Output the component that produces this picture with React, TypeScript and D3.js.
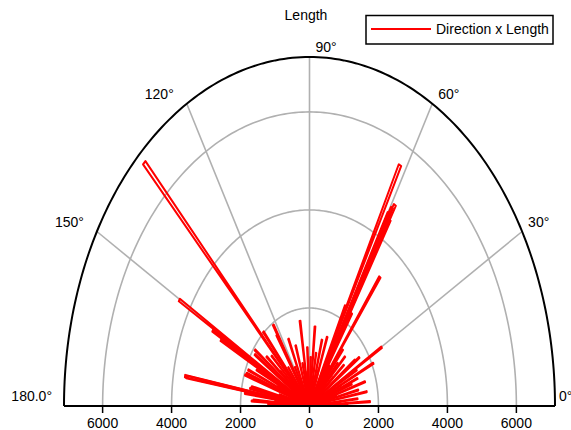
import React from "react";
import * as d3 from "d3";

// ---- data (direction in degrees, length) ----
const directionDeg = [
  134.0, 150.2, 151.3, 152.4, 170.4, 170.6,
  61.9, 58.9, 59.4, 59.8, 58.5, 52.2, 57.1, 63.0,
  29.8, 25.2, 17.1, 10.0, 2.9, 34.5, 35.4, 28.2, 44.4,
  84.4, 99.0, 131.5, 123.3, 122.4, 144.1, 146.5,
  154.3, 157.5, 159.9, 161.3, 166.8, 168.2, 172.1, 175.7, 176.5,
  6.0, 13.0, 20.0, 22.0, 40.0, 47.0, 50.0, 70.0, 75.0, 80.0, 88.0, 93.0,
  108.0, 114.0, 103.0, 137.0, 141.0,
  5.0, 15.0, 25.0, 40.5, 55.0, 70.5, 80.5, 95.0, 105.0, 118.0, 128.0,
  140.0, 155.0, 165.0, 178.0, 174.0, 2.0,
];
const lengthVal = [
  6900, 4350, 3200, 2900, 3660, 3620,
  5570, 4790, 4700, 4560, 4450, 3330, 2250, 2300,
  2410, 2045, 1684, 1683, 1756, 1750, 1620, 1550, 1440,
  1630, 1760, 2020, 1730, 1960, 1950, 1900,
  1700, 1920, 1940, 1970, 1720, 1760, 1890, 1630, 1680,
  1400, 1450, 1300, 1500, 1300, 1200, 1500, 1500, 1400, 1100, 1000, 1200,
  1300, 1500, 900, 1500, 1600,
  900, 800, 1000, 900, 1000, 800, 600, 700, 600, 900, 1000,
  1100, 1000, 900, 1200, 1000, 1100,
];
const ringValues = [2000, 4000, 6000];
const spokeAngles = [30, 60, 90, 120, 150];
const axisTicks = [-6000, -4000, -2000, 0, 2000, 4000, 6000];
const angleLabels = ["30°", "60°", "90°", "120°", "150°"];
const RMAX = 7120;

export default function App() {
  const W = 571, H = 430;
  const cx = 309.5, cy = 406, RX = 245.5, RY = 349;
  const rs = d3.scaleLinear().domain([0, RMAX]).range([0, 1]);
  const xs = d3.scaleLinear().domain([-RMAX, RMAX]).range([cx - RX, cx + RX]);
  const pt = (deg: number, v: number): [number, number] => {
    const a = (deg * Math.PI) / 180;
    return [cx + rs(v) * RX * Math.cos(a), cy - rs(v) * RY * Math.sin(a)];
  };
  const line = d3.line<[number, number]>().x((d) => d[0]).y((d) => d[1]);
  const arcPath = (v: number) => line(d3.range(0, 180.5, 1).map((t) => pt(t, v))) as string;
  const wedge = 0.8;
  const font = "'Liberation Sans', Arial, sans-serif";

  return (
    <svg width={W} height={H} style={{ position: "absolute", left: 0, top: 0, background: "#fff" }}
      fontFamily={font} fontSize={14}>
      <rect x={0} y={0} width={W} height={H} fill="#fff" />
      {/* grid */}
      {ringValues.map((v) => (
        <path key={"r" + v} d={arcPath(v)} fill="none" stroke="#b0b0b0" strokeWidth={1.6} />
      ))}
      {spokeAngles.map((a) => {
        const [x, y] = pt(a, RMAX);
        return <line key={"s" + a} x1={cx} y1={cy} x2={x} y2={y} stroke="#b0b0b0" strokeWidth={1.6} />;
      })}
      {/* data */}
      {directionDeg.map((a, i) => {
        const v = lengthVal[i];
        const d = line([pt(0, 0), pt(a - wedge / 2, v), pt(a + wedge / 2, v), pt(0, 0)]) as string;
        return <path key={"d" + i} d={d} fill="none" stroke="#ff0000" strokeWidth={2} strokeLinejoin="round" />;
      })}
      {/* axes */}
      <path d={arcPath(RMAX)} fill="none" stroke="#000" strokeWidth={2} />
      <line x1={xs(-RMAX)} y1={cy} x2={xs(RMAX)} y2={cy} stroke="#000" strokeWidth={2} />
      {axisTicks.map((t) => (
        <g key={"t" + t}>
          <line x1={xs(t)} y1={cy} x2={xs(t)} y2={cy + 7} stroke="#000" strokeWidth={1.5} />
          <text x={xs(t)} y={428} textAnchor="middle" fill="#000">{Math.abs(t)}</text>
        </g>
      ))}
      {spokeAngles.map((a, i) => {
        const [x, y] = pt(a, RMAX);
        const right = a <= 90;
        return (
          <text key={"l" + a} x={right ? x + 6 : x - 13} y={y - 5} textAnchor={right ? "start" : "end"} fill="#000">
            {angleLabels[i]}
          </text>
        );
      })}
      <text x={52} y={401} textAnchor="end" fill="#000">180.0°</text>
      <text x={559} y={401} textAnchor="start" fill="#000">0°</text>
      <text x={306} y={20} textAnchor="middle" fill="#000">Length</text>
      {/* legend */}
      <rect x={366} y={15.5} width={187} height={28.5} fill="#fff" stroke="#000" strokeWidth={1.5} />
      <line x1={371} y1={29} x2={431} y2={29} stroke="#ff0000" strokeWidth={2} />
      <text x={436} y={34} fill="#000">Direction x Length</text>
    </svg>
  );
}
